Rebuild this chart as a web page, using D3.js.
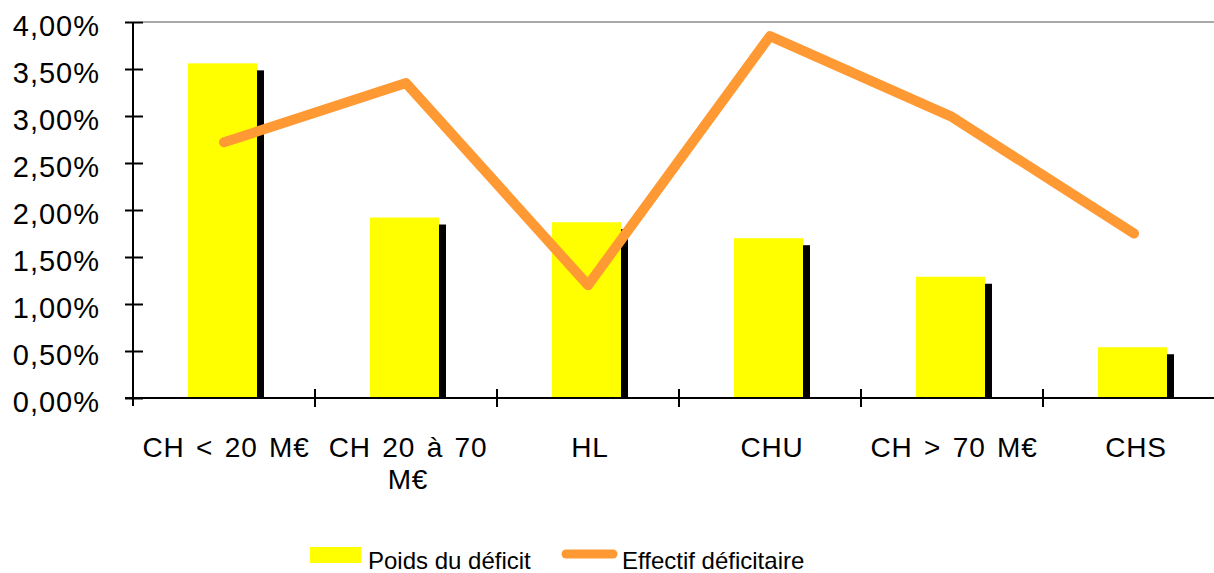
<!DOCTYPE html>
<html><head><meta charset="utf-8">
<script src="https://cdn.jsdelivr.net/npm/d3@7"></script>
<style>
html,body{margin:0;padding:0;background:#fff;}
text{font-family:"Liberation Sans",Arial,sans-serif;fill:#000;}
</style></head>
<body><svg id="c" width="1214" height="573"></svg>
<script>
const categories = ["CH < 20 M€", "CH 20 à 70 M€", "HL", "CHU", "CH > 70 M€", "CHS"];
const categoryLines = [["CH < 20 M€"], ["CH 20 à 70", "M€"], ["HL"], ["CHU"], ["CH > 70 M€"], ["CHS"]];
const poidsDeficit = [3.56, 1.92, 1.87, 1.70, 1.29, 0.54];
const effectifDeficitaire = [2.72, 3.35, 1.20, 3.85, 2.99, 1.75];
const yTicks = [0, 0.5, 1, 1.5, 2, 2.5, 3, 3.5, 4];
const seriesNames = ["Poids du déficit", "Effectif déficitaire"];

const svg = d3.select("#c");
const x = d3.scaleBand().domain(categories).range([133, 1225]);
const y = d3.scaleLinear().domain([0, 4]).range([398, 22]);
const fmt = v => v.toFixed(2).replace(".", ",") + "%";

// top gridline
svg.append("line").attr("x1", 143).attr("x2", 1214).attr("y1", y(4)).attr("y2", y(4))
  .attr("stroke", "#8c8c8c").attr("stroke-width", 1.5);

// bars with shadow
const bw = 69;
const g = svg.append("g");
categories.forEach((c, i) => {
  const cx = x(c) + x.bandwidth() / 2;
  const top = y(poidsDeficit[i]);
  g.append("rect").attr("x", cx - 36 + 7).attr("y", top + 7).attr("width", bw)
    .attr("height", y(0) - top - 7).attr("fill", "#000");
  g.append("rect").attr("x", cx - 36).attr("y", top).attr("width", bw)
    .attr("height", y(0) - top).attr("fill", "#ffff00");
});

// y axis
const ya = svg.append("g").attr("transform", "translate(133,0)")
  .call(d3.axisLeft(y).tickValues(yTicks).tickFormat(fmt).tickSizeInner(8).tickSizeOuter(0));
ya.select(".domain").attr("stroke", "#000").attr("stroke-width", 2).attr("d", "M0,22V406");
ya.selectAll(".tick line").attr("stroke", "#000").attr("stroke-width", 2).attr("x1", -8).attr("x2", 10);
ya.selectAll(".tick text").attr("x", -33).attr("dy", "0.45em")
  .style("font-size", "29px").style("letter-spacing", "1px").attr("fill", "#000");

// x axis
const xa = svg.append("g").attr("transform", "translate(0,398)");
xa.append("line").attr("x1", 125).attr("x2", 1214).attr("y1", 0).attr("y2", 0)
  .attr("stroke", "#000").attr("stroke-width", 2);
categories.forEach((c, i) => {
  const x0 = x(c) + x.bandwidth();
  if (x0 < 1214) xa.append("line").attr("x1", x0).attr("x2", x0).attr("y1", -9).attr("y2", 9)
    .attr("stroke", "#000").attr("stroke-width", 2);
  const t = xa.append("text").attr("text-anchor", "middle")
    .attr("transform", `translate(${x(c) + x.bandwidth() / 2 + 2},59)`)
    .style("font-size", "28px").style("letter-spacing", "0.8px").style("word-spacing", "3px");
  categoryLines[i].forEach((l, k) => t.append("tspan").attr("x", 0).attr("y", k * 32).text(l));
});

// line
const line = d3.line().x((d, i) => x(categories[i]) + x.bandwidth() / 2).y(d => y(d));
svg.append("path").datum(effectifDeficitaire).attr("d", line).attr("fill", "none")
  .attr("stroke", "#ff9933").attr("stroke-width", 10).attr("stroke-linecap", "round")
  .attr("stroke-linejoin", "round");

// legend
const lg = svg.append("g");
lg.append("rect").attr("x", 310).attr("y", 547).attr("width", 51).attr("height", 16).attr("fill", "#ffff00");
lg.append("text").attr("x", 368).attr("y", 569).style("font-size", "24px").text(seriesNames[0]);
lg.append("line").attr("x1", 566).attr("x2", 613).attr("y1", 554).attr("y2", 554)
  .attr("stroke", "#ff9933").attr("stroke-width", 9).attr("stroke-linecap", "round");
lg.append("text").attr("x", 622).attr("y", 569).style("font-size", "24px").text(seriesNames[1]);
</script></body></html>
